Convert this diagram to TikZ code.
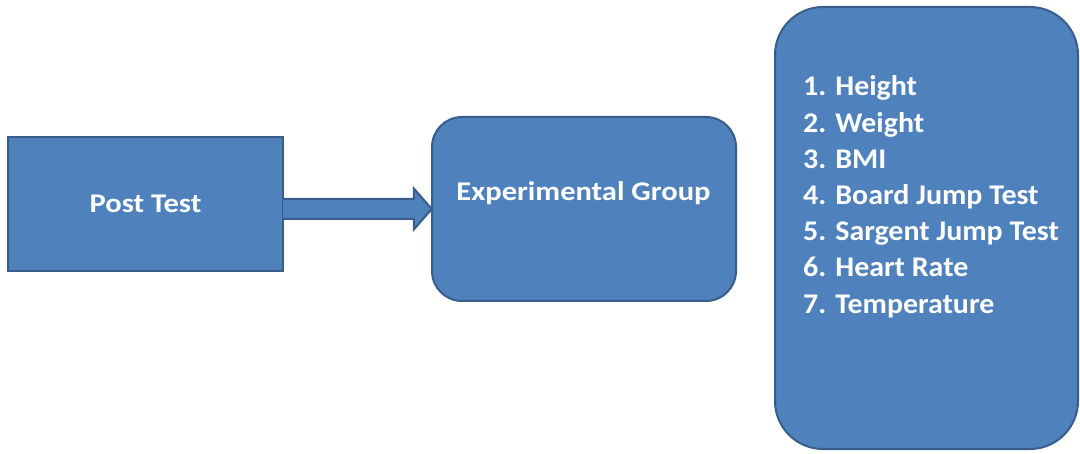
\documentclass[tikz,border=0pt]{standalone}
\usepackage{fontspec}
\setmainfont{Carlito}
\usetikzlibrary{calc}
\definecolor{boxfill}{HTML}{4F81BD}
\definecolor{boxline}{HTML}{385D8A}
\newcommand{\wideA}[1]{\scalebox{1.13}[1]{#1}}
\newcommand{\wideB}[1]{\scalebox{1.05}[1]{#1}}
\tikzset{
  shapebox/.style={draw=boxline, fill=boxfill, line width=2pt},
  lbl/.style={text=white, font=\bfseries\fontsize{27}{32}\selectfont, inner sep=0pt},
  item/.style={text=white, font=\bfseries\fontsize{28.5}{34}\selectfont, inner sep=0pt, anchor=base west},
}
\begin{document}
\begin{tikzpicture}[x=1pt,y=1pt]
\useasboundingbox (0,0) rectangle (1080,453);
\fill[white] (0,0) rectangle (1080,453);
% boxes
\draw[shapebox] (8,182) rectangle (283,316);
\node[inner sep=0pt, minimum width=275pt, minimum height=134pt] (post) at (145.5,249) {};
\draw[shapebox, rounded corners=30pt] (432,152) rectangle (736,336);
\node[inner sep=0pt, minimum width=304pt, minimum height=184pt] (grp) at (584,244) {};
\draw[shapebox, rounded corners=48pt] (775,4) rectangle (1078,446);
\node[inner sep=0pt, minimum width=303pt, minimum height=442pt] (list) at (926.5,225) {};
% texts
\node[lbl, anchor=base] (posttxt) at (145.5,240) {\wideA{Post Test}};
\node[lbl, anchor=base] (grptxt) at (583.5,252) {\wideA{Experimental Group}};
\foreach \t [count=\i] in {Height, Weight, BMI, Board Jump Test, Sargent Jump Test, Heart Rate, Temperature}
  \node[item] (it\i) at (803,{453-96-36.2*(\i-1)}) {\wideB{\i. \t}};
% block arrow
\draw[shapebox, line join=miter]
  ($(post.east|-grp.west)+(0,10)$) -- ($(grp.west)+(-18,10)$) -- ($(grp.west)+(-18,20.5)$)
  -- (grp.west) -- ($(grp.west)+(-18,-20.5)$) -- ($(grp.west)+(-18,-10)$)
  -- ($(post.east|-grp.west)+(0,-10)$);
\end{tikzpicture}
\end{document}
